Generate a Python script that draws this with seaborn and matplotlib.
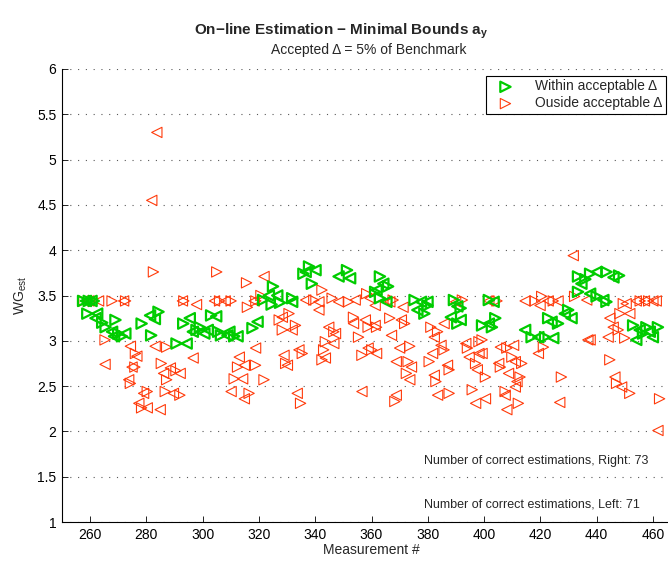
import matplotlib
matplotlib.use("Agg")
import matplotlib.pyplot as plt
import seaborn as sns

# ---------------- data ----------------
green_right_x = [257.5, 259.5, 261.3, 259, 264.3, 269, 271.3, 278.3, 284.3, 281.7, 265.5, 270,
                 293.1, 297.8, 303, 306.5, 311.2, 317.7, 290.7, 299, 305.5, 321.5, 324.5,
                 325, 327.5, 331.8, 337.8, 335.8, 338.8, 351.3, 361.3,
                 363, 365.9, 363, 375.3, 379.9, 378.8, 389.3, 391.7, 390.5, 399.3,
                 401.7, 404, 402.8, 416.9, 421.7, 422.8, 426.3, 429.9, 433.4, 433.4,
                 437.7, 443.5, 440, 443.5, 453, 457.7, 461.8, 456.5, 436, 448]
green_right_y = [3.44, 3.44, 3.44, 3.30, 3.20, 3.23, 3.05, 3.19, 3.32, 3.06, 3.15, 3.08,
                 3.19, 3.12, 3.28, 3.06, 3.05, 3.14, 2.97, 3.15, 3.10, 3.45, 3.40,
                 3.60, 3.42, 3.47, 3.82, 3.74, 3.63, 3.78, 3.54,
                 3.71, 3.60, 3.47, 3.45, 3.39, 3.30, 3.45, 3.36, 3.19, 3.17,
                 3.45, 3.25, 3.15, 3.04, 3.04, 3.25, 3.19, 3.34, 3.71, 3.54,
                 3.74, 3.76, 3.49, 3.43, 3.17, 3.15, 3.15, 3.08, 3.68, 3.72]
green_left_x = [258.5, 260.5, 261.9, 262.5, 267.8, 268.5, 272.5, 281.3, 283,
                295.4, 300.6, 304.8, 308.8, 312.4, 319.5, 294.3, 301.8, 296.5, 309.5, 323.5,
                326.5, 331.8, 336.6, 340.1, 348.3, 352.4,
                364.2, 361.8, 365.3, 377.6, 376.3, 379.9, 388.2, 390.5, 391.7,
                403.4, 401.7, 414.6, 419.3, 424.6, 424, 428.7, 431.1, 434.6,
                440, 437.7, 442.4, 455.3, 460, 454.1, 458.9, 446]
green_left_y = [3.44, 3.44, 3.25, 3.30, 3.10, 3.05, 3.08, 3.28, 3.24,
                3.25, 3.08, 3.27, 3.06, 3.05, 3.21, 2.97, 3.12, 3.10, 3.10, 3.50,
                3.50, 3.43, 3.76, 3.78, 3.71, 3.69,
                3.63, 3.56, 3.43, 3.43, 3.34, 3.43, 3.26, 3.38, 3.23,
                3.43, 3.19, 3.12, 3.04, 3.03, 3.21, 3.30, 3.25, 3.63,
                3.76, 3.52, 3.45, 3.12, 3.04, 3.01, 3.10, 3.70]

red_right_x = [257.8, 261, 267.8, 272.6, 282.5, 265.3, 276.1, 275.9, 274.3, 280.3, 285.3, 286.7, 278.3,
               305, 315.6, 293.3, 306, 310.1, 315.9, 318.9, 320.7, 287.2, 290.5, 287.2, 291.9, 312.4,
               318.8, 311.2, 321.8, 316.5,
               342.4, 339.5, 346, 351.8, 358.3, 330.7, 327.2, 328.3, 333, 346.6, 353.6, 358.8, 355.4,
               343.6, 343, 342.4, 335.4, 329.5, 356.6, 360.1, 334.8,
               367.7, 366.5, 371.8, 381.1, 383.5, 392.3, 361.8, 373.6, 373, 372.4, 385.8, 380.5,
               387.6, 382.9, 387.6, 368.3, 394.1, 397, 398.2, 395.8,
               404.6, 418.1, 420.5, 424.6, 432.2, 399.3, 408.1, 409.9, 413.4, 405.8, 412.8, 400.5,
               407.5, 412.2, 421.1, 427.5,
               449.5, 455.5, 458.5, 448.3, 447.7, 450, 444.7, 447.1, 451.8, 462.4]
red_right_y = [3.44, 3.44, 3.44, 3.44, 3.76, 3.01, 2.86, 2.71, 2.53, 2.44, 2.75, 2.44, 2.26,
               3.76, 3.64, 3.44, 3.44, 3.44, 3.37, 3.44, 3.50, 2.93, 2.67, 2.57, 2.40, 2.71,
               2.73, 2.58, 2.57, 2.42,
               3.56, 3.45, 3.47, 3.43, 3.52, 3.30, 3.23, 3.12, 3.17, 3.10, 3.26, 3.15, 3.04,
               2.99, 2.90, 2.79, 2.86, 2.75, 2.84, 2.90, 2.31,
               3.45, 3.25, 3.19, 3.15, 3.10, 3.45, 3.15, 2.94, 2.77, 2.64, 2.90, 2.77,
               2.68, 2.55, 2.42, 2.33, 2.92, 2.75, 2.99, 2.46,
               3.44, 3.44, 3.49, 3.44, 3.49, 3.01, 2.92, 2.82, 2.75, 2.71, 2.60, 2.60,
               2.44, 2.31, 2.93, 2.60,
               3.41, 3.44, 3.44, 3.30, 3.12, 3.03, 2.79, 2.53, 2.42, 2.36]
red_left_x = [259.5, 263, 271.9, 265.3, 274.3, 276.6, 274.9, 273.7, 279, 283.1, 286.1, 284.9, 277.3, 280.3,
              283.7, 281.9,
              321.8, 292.8, 297.8, 304.2, 308, 318.3, 296.6, 288.5, 292, 289.6, 313, 314.8, 314.2,
              318.8, 310.1, 314.8,
              336.6, 341.3, 348.3, 354.2, 359.5, 361.3, 341.3, 328.3, 331.8, 344.8, 347.2, 353.6,
              357.8, 361.3, 346.6, 343.6, 334.2, 328.9, 330.1, 358.8, 333.6, 356.6,
              366.5, 371.2, 370.6, 367.1, 385.8, 382.3, 389.9, 361.8, 370, 368.8, 374.2, 373.6,
              384.7, 381.7, 387, 382.3, 383.5, 368.8, 393.5, 394.7, 398.2, 397.6, 397,
              401.7, 414.6, 419.9, 422.8, 426.3, 431.7, 399.3, 405.8, 410.5, 411.1, 405.2, 408.7,
              411.7, 411.1, 407.5, 400.5, 408.1, 419.3, 426.9, 436.9,
              436.5, 450.5, 454.1, 457, 460, 461.2, 444.7, 451.8, 445.9, 444.1, 437.7, 446.5, 448.9,
              461.8]
red_left_y = [3.44, 3.44, 3.44, 2.74, 2.94, 2.83, 2.71, 2.57, 2.42, 2.94, 2.64, 2.24, 2.31, 2.26,
              5.30, 4.55,
              3.71, 3.44, 3.40, 3.44, 3.44, 3.44, 2.81, 2.70, 2.64, 2.42, 2.82, 2.73, 2.58,
              2.92, 2.44, 2.36,
              3.45, 3.43, 3.43, 3.45, 3.47, 3.39, 3.34, 3.26, 3.12, 3.15, 3.08, 3.19,
              3.23, 3.17, 2.97, 2.81, 2.90, 2.84, 2.73, 2.92, 2.42, 2.44,
              3.43, 3.37, 3.23, 3.06, 3.19, 3.04, 3.43, 2.86, 2.92, 2.77, 2.71, 2.57,
              2.95, 2.86, 2.73, 2.62, 2.40, 2.40, 2.97, 2.82, 2.86, 2.68, 2.31,
              3.44, 3.44, 3.39, 3.44, 3.44, 3.94, 2.86, 2.93, 2.95, 2.77, 2.75, 2.64,
              2.55, 2.49, 2.40, 2.36, 2.24, 2.86, 2.32, 3.01,
              3.45, 3.41, 3.44, 3.44, 3.44, 3.44, 3.25, 3.30, 3.15, 3.04, 3.01, 2.60, 2.49,
              2.01]

x_ticks = [260, 280, 300, 320, 340, 360, 380, 400, 420, 440, 460]
y_ticks = [1, 1.5, 2, 2.5, 3, 3.5, 4, 4.5, 5, 5.5, 6]
y_tick_labels = ["1", "1.5", "2", "2.5", "3", "3.5", "4", "4.5", "5", "5.5", "6"]
legend_labels = ["Within acceptable \u0394", "Ouside acceptable \u0394"]
count_right = 73
count_left = 71

# ---------------- style ----------------
sns.set_style("ticks")
plt.rcParams["font.family"] = ["Liberation Sans", "DejaVu Sans"]
plt.rcParams["mathtext.fontset"] = "custom"
plt.rcParams["mathtext.rm"] = "Liberation Sans"
plt.rcParams["mathtext.it"] = "Liberation Sans"
plt.rcParams["mathtext.bf"] = "Liberation Sans:bold"

GREEN = "#00CC00"
RED = "#FF3A0A"
FS = 10

fig = plt.figure(figsize=(6.68, 5.62), dpi=100)
ax = fig.add_axes([62 / 668, 40 / 562, (681 - 62) / 668, 453 / 562])

ms = 55
sns.scatterplot(x=green_right_x, y=green_right_y, marker=">", s=ms, facecolors="none",
                edgecolor=GREEN, linewidth=1.6, ax=ax, label=legend_labels[0], zorder=3)
sns.scatterplot(x=green_left_x, y=green_left_y, marker="<", s=ms, facecolors="none",
                edgecolor=GREEN, linewidth=1.6, ax=ax, zorder=3)
sns.scatterplot(x=red_right_x, y=red_right_y, marker=">", s=ms, facecolors="none",
                edgecolor=RED, linewidth=0.8, ax=ax, label=legend_labels[1], zorder=2)
sns.scatterplot(x=red_left_x, y=red_left_y, marker="<", s=ms, facecolors="none",
                edgecolor=RED, linewidth=0.8, ax=ax, zorder=2)

ax.set_xlim(250, 470)
ax.set_ylim(1, 6)
ax.set_xticks(x_ticks)
ax.set_yticks(y_ticks)
ax.set_yticklabels(y_tick_labels)
ax.tick_params(direction="in", length=4, width=0.6, labelsize=FS, colors="black", pad=4)
for s in ["top", "right"]:
    ax.spines[s].set_visible(False)
for s in ["left", "bottom"]:
    ax.spines[s].set_linewidth(0.8)
    ax.spines[s].set_color("black")
ax.yaxis.grid(True, linestyle=(0, (1, 6)), color="0.35", linewidth=0.8)
ax.xaxis.grid(False)
ax.set_axisbelow(True)

ax.set_xlabel("Measurement #", fontsize=FS, labelpad=1)
ax.set_ylabel(r"WG$_\mathregular{est}$", fontsize=FS, labelpad=6)

ax.text(378.5, 1.67, f"Number of correct estimations, Right: {count_right}", fontsize=9,
        ha="left", va="center")
ax.text(378.5, 1.19, f"Number of correct estimations, Left: {count_left}", fontsize=9,
        ha="left", va="center")

fig.text(341.5 / 668, 1 - 31 / 562, r"On−line Estimation − Minimal Bounds a$_\mathbf{y}$",
         fontsize=11, fontweight="bold", ha="center", va="center")
fig.text(369 / 668, 1 - 50 / 562, "Accepted \u0394 = 5% of Benchmark", fontsize=FS,
         ha="center", va="center")

leg = ax.legend(loc="upper left", bbox_to_anchor=((486 - 62) / 619, 1 - 7 / 453),
                borderaxespad=0, frameon=True, fancybox=False, fontsize=FS,
                scatterpoints=1, handletextpad=1.0, borderpad=0.25, labelspacing=0.2,
                handlelength=2.3)
leg.get_frame().set_edgecolor("black")
leg.get_frame().set_linewidth(0.8)
leg.get_frame().set_alpha(1)

fig.savefig("out.png", dpi=100)
